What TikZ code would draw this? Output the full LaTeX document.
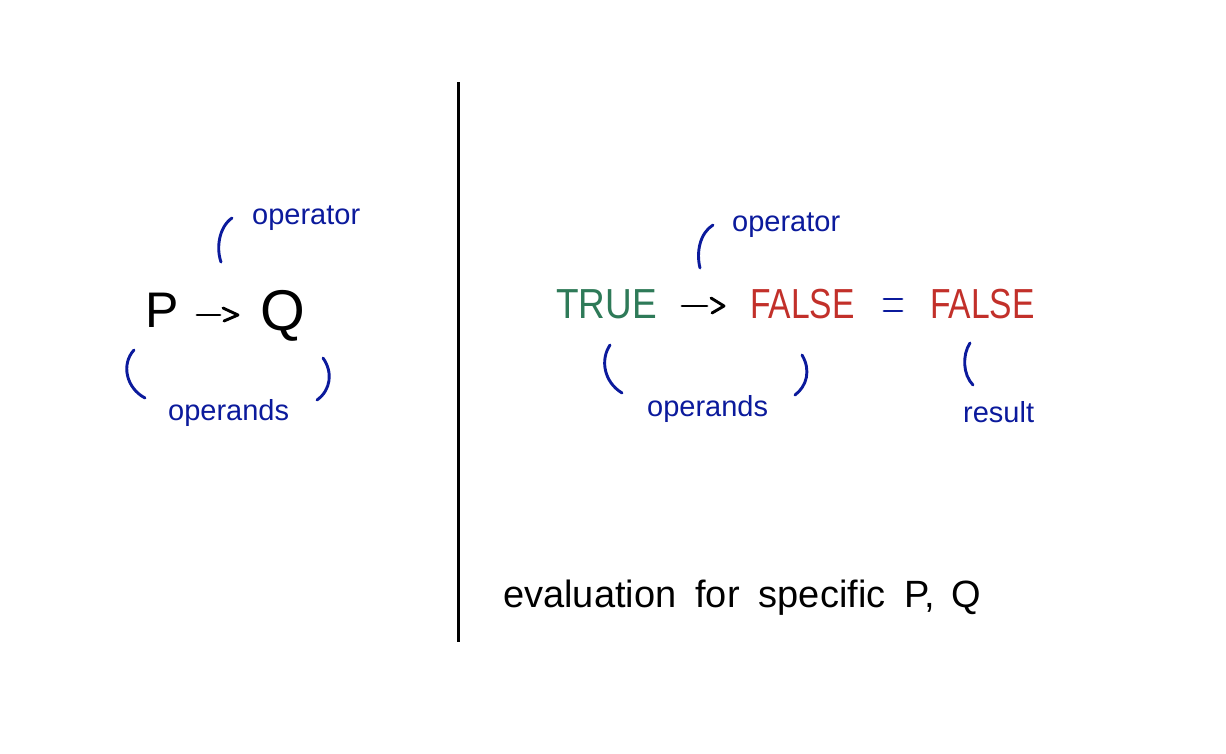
\documentclass[tikz,border=0pt]{standalone}
\usepackage{fontspec}
\setmainfont{Liberation Sans}
\definecolor{inkblue}{HTML}{0B1A9C}
\definecolor{inkgreen}{HTML}{2E7A58}
\definecolor{inkred}{HTML}{C2302A}
\begin{document}
\begin{tikzpicture}[x=1pt,y=-1pt,
  ink/.style={line width=2.9pt, line cap=round, line join=round},
  bink/.style={ink, inkblue},
  lbl/.style={text=inkblue, font=\fontsize{29}{29}\selectfont, inner sep=0pt, anchor=base west},
  big/.style={font=\fontsize{50}{50}\selectfont, inner sep=0pt, anchor=base west},
  val/.style={font=\fontsize{42}{42}\selectfont, inner sep=0pt, anchor=base west},
]
\useasboundingbox[fill=white] (0,0) rectangle (1226,753);

% divider
\draw[line width=3pt] (458,82) -- (458,642);

% ---------- left: P -> Q ----------
\node[big] (P) at (145,327) {P};
\node[big] (Q) at (260,330) {\scalebox{1.15}{Q}};
\draw[ink] (197,315) -- (220,315);
\draw[ink] (223,308) -- (238,315) -- (224,321);

\node[lbl] (opL) at (252,224) {operator};
\draw[bink] (232,218) .. controls (219,227) and (216,248) .. (221,262);

\node[lbl] (opsL) at (168,420) {operands};
\draw[bink] (134,350) .. controls (121,364) and (126,388) .. (145,398);
\draw[bink] (323,358) .. controls (333,372) and (331,390) .. (317,400);

% ---------- right: TRUE -> FALSE = FALSE ----------
\node[val, text=inkgreen] (T) at (556,318) {\scalebox{0.88}[1]{TRUE}};
\draw[ink] (682,306) -- (707,306);
\draw[ink] (711,298) -- (724,306) -- (712,313);
\node[val, text=inkred] (F1) at (750,318) {\scalebox{0.8}[1]{FALSE}};
\draw[bink] (884,299) -- (902,299);
\draw[bink] (884,311) -- (902,311);
\node[val, text=inkred] (F2) at (930,318) {\scalebox{0.8}[1]{FALSE}};

\node[lbl] (opR) at (732,231) {operator};
\draw[bink] (713,225) .. controls (700,233) and (696,252) .. (700,268);

\node[lbl] (opsR) at (647,416) {operands};
\draw[bink] (610,345) .. controls (600,360) and (604,382) .. (622,393);
\draw[bink] (802,355) .. controls (811,370) and (807,386) .. (795,395);

\draw[bink] (970,343) .. controls (962,355) and (963,375) .. (973,385);
\node[lbl] (res) at (963,422) {result};

% caption
\node[font=\fontsize{38}{38}\selectfont, inner sep=0pt, anchor=base west] (cap) at (503,607)
  {evaluation\hspace{19pt}for\hspace{19pt}specific\hspace{19pt}P,\hspace{16pt}Q};
\end{tikzpicture}
\end{document}
